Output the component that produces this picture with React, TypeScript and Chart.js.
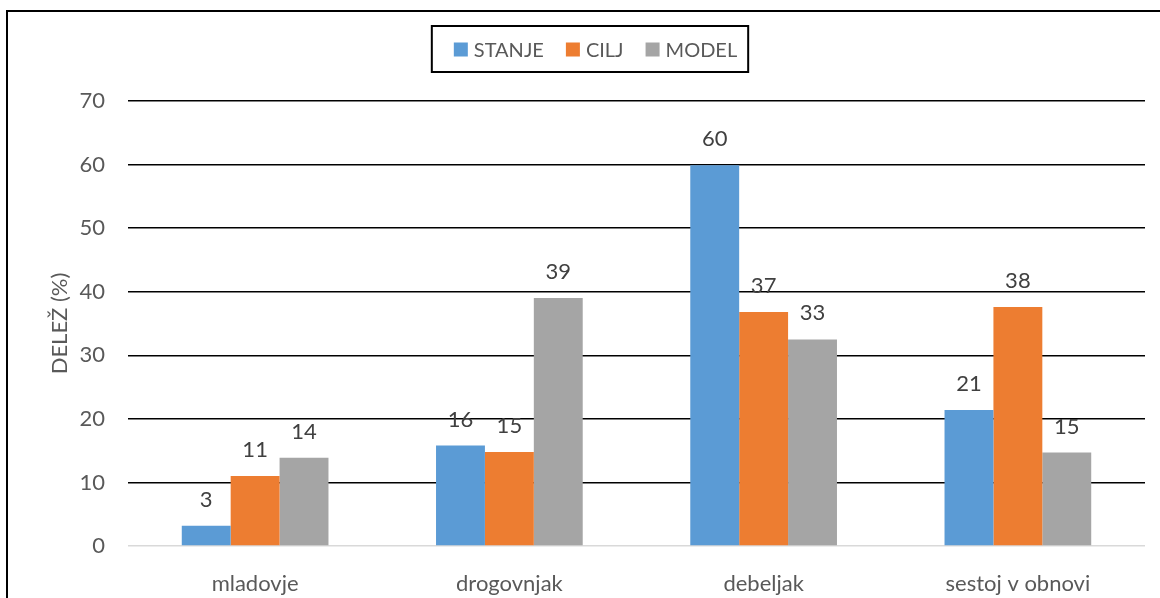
import React, { useEffect, useRef } from "react";
import { Chart, registerables } from "chart.js";

Chart.register(...registerables);

// Category labels along the x axis
const categories = ["mladovje", "drogovnjak", "debeljak", "sestoj v obnovi"];

// Share (%) per development stage
const stanje = [3.2, 15.8, 59.9, 21.4];
const cilj = [11.0, 14.8, 36.8, 37.6];
const model = [13.9, 39.0, 32.5, 14.7];

const seriesNames = ["STANJE", "CILJ", "MODEL"];
const seriesColors = ["#5B9BD5", "#ED7D31", "#A5A5A5"];

const yMin = 0;
const yMax = 70;
const yStep = 10;
const yTitle = "DELEŽ (%)";

const FONT = "Lato, 'Open Sans', sans-serif";
const FONT_SIZE = 22;
const LEGEND_FONT_SIZE = 20;
const Y_TITLE_X = 60;

// Value labels above each bar
const barLabels = {
  id: "barLabels",
  afterDatasetsDraw(chart: any) {
    const { ctx } = chart;
    ctx.save();
    ctx.font = `${FONT_SIZE}px ${FONT}`;
    ctx.fillStyle = "#404040";
    ctx.textAlign = "center";
    ctx.textBaseline = "alphabetic";
    chart.data.datasets.forEach((ds: any, i: number) => {
      const meta = chart.getDatasetMeta(i);
      meta.data.forEach((bar: any, j: number) => {
        ctx.fillText(String(Math.round(ds.data[j])), bar.x, bar.y - 19);
      });
    });
    ctx.restore();
  },
};

// Rotated y-axis title, centred on the plot height, left of the tick labels
const yAxisTitle = {
  id: "yAxisTitle",
  afterDraw(chart: any) {
    const { ctx, chartArea } = chart;
    ctx.save();
    ctx.translate(Y_TITLE_X, (chartArea.top + chartArea.bottom) / 2);
    ctx.rotate(-Math.PI / 2);
    ctx.font = `${FONT_SIZE}px ${FONT}`;
    ctx.fillStyle = "#595959";
    ctx.textAlign = "center";
    ctx.textBaseline = "middle";
    ctx.fillText(yTitle, 0, 0);
    ctx.restore();
  },
};

// Framed legend at the top and the outer chart border
const framedLegend = {
  id: "framedLegend",
  afterDraw(chart: any) {
    const { ctx } = chart;
    ctx.save();
    // outer border
    ctx.strokeStyle = "#000";
    ctx.lineWidth = 2;
    ctx.strokeRect(7, 11, chart.width + 40, chart.height + 40);

    ctx.font = `${LEGEND_FONT_SIZE}px ${FONT}`;
    const box = 14;
    const gapText = 6;
    const gapItem = 22;
    const items = chart.data.datasets.map((ds: any) => ({
      label: ds.label,
      color: ds.backgroundColor,
      w: ctx.measureText(ds.label).width,
    }));
    let itemsW = 0;
    items.forEach((it: any, i: number) => {
      itemsW += box + gapText + it.w + (i < items.length - 1 ? gapItem : 0);
    });
    const padL = 22;
    const padR = 11;
    const frameW = itemsW + padL + padR;
    const cx = chart.width / 2 + 10;
    const frameL = cx - frameW / 2;
    const frameT = 26;
    const frameH = 46;
    const cy = frameT + frameH / 2 + 0.5;

    ctx.lineWidth = 2;
    ctx.strokeStyle = "#000";
    ctx.strokeRect(frameL, frameT, frameW, frameH);

    let x = frameL + padL;
    ctx.textBaseline = "middle";
    ctx.textAlign = "left";
    items.forEach((it: any) => {
      ctx.fillStyle = it.color;
      ctx.fillRect(x, cy - box / 2, box, box);
      x += box + gapText;
      ctx.fillStyle = "#595959";
      ctx.fillText(it.label, x, cy + 1);
      x += it.w + gapItem;
    });
    ctx.restore();
  },
};

export default function App() {
  const canvasRef = useRef<HTMLCanvasElement | null>(null);

  useEffect(() => {
    if (!canvasRef.current) return;
    const seriesData = [stanje, cilj, model];
    const chart = new Chart(canvasRef.current, {
      type: "bar",
      data: {
        labels: categories,
        datasets: seriesNames.map((name, i) => ({
          label: name,
          data: seriesData[i],
          backgroundColor: seriesColors[i],
          borderWidth: 0,
          categoryPercentage: 0.577,
          barPercentage: 1,
        })),
      },
      options: {
        animation: false,
        responsive: false,
        maintainAspectRatio: false,
        layout: { padding: { left: 0, right: 15, top: 101, bottom: 0 } },
        plugins: {
          legend: { display: false },
          tooltip: { enabled: false },
          title: { display: false },
        },
        scales: {
          x: {
            grid: { display: false },
            border: { display: false },
            ticks: {
              color: "#595959",
              font: { family: FONT, size: FONT_SIZE },
              padding: 17,
            },
            afterFit(scale: any) {
              scale.height = 52;
            },
          },
          y: {
            min: yMin,
            max: yMax,
            border: { display: false },
            grid: {
              drawTicks: false,
              lineWidth: 1.5,
              color: (c: any) => (c.tick && c.tick.value === 0 ? "#D9D9D9" : "#000000"),
            },
            ticks: {
              stepSize: yStep,
              color: "#595959",
              font: { family: FONT, size: FONT_SIZE },
              padding: 23,
            },
            title: { display: false },
            afterFit(scale: any) {
              scale.width = 128;
            },
          },
        },
      },
      plugins: [barLabels, yAxisTitle, framedLegend],
    });
    return () => chart.destroy();
  }, []);

  return (
    <div style={{ position: "fixed", left: 0, top: 0, width: 1160, height: 598, overflow: "hidden", background: "#fff" }}>
      <canvas ref={canvasRef} width={1160} height={598} style={{ display: "block" }} />
    </div>
  );
}
